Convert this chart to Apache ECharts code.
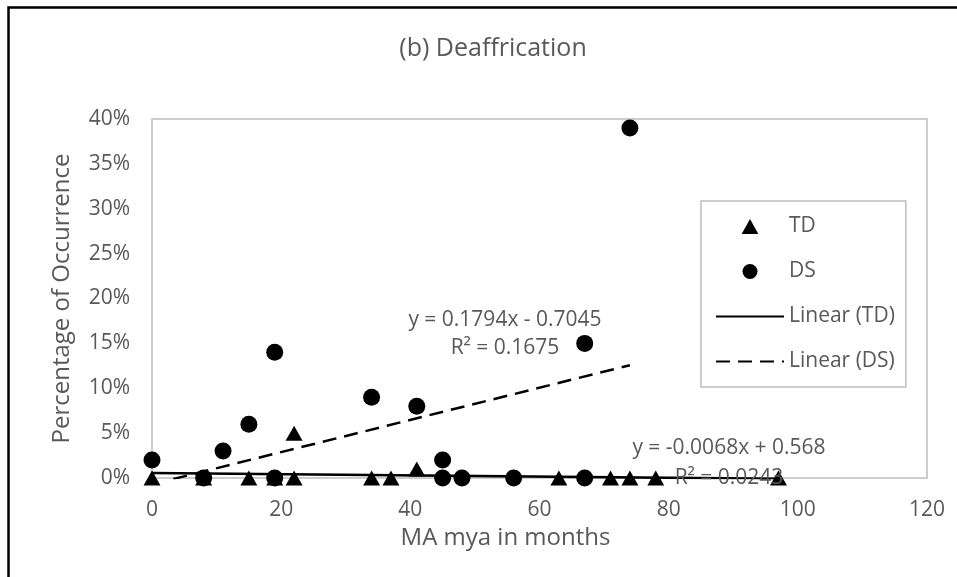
<!DOCTYPE html>
<html>
<head>
<meta charset="utf-8">
<script src="https://cdn.jsdelivr.net/npm/echarts@6/dist/echarts.min.js"></script>
<style>
html,body{margin:0;padding:0;background:#fff;}
#chart{width:957px;height:577px;}
</style>
</head>
<body>
<div id="chart"></div>
<script>
// ---- data (x = MA mya in months, y = percentage of occurrence) ----
const tdX = [0, 8, 15, 19, 22, 22, 34, 37, 41, 63, 71, 74, 78, 97];
const tdY = [0, 0, 0, 0, 5, 0, 0, 0, 1, 0, 0, 0, 0, 0];
const dsX = [0, 8, 11, 15, 19, 19, 34, 41, 45, 45, 48, 56, 67, 67, 74];
const dsY = [2, 0, 3, 6, 14, 0, 9, 8, 2, 0, 0, 0, 0, 15, 39];
// linear trendline coefficients as printed on the chart [slope, intercept]
const tdFit = [-0.0068, 0.568];
const dsFit = [0.1794, -0.7045];
const tdLabel = ["y = -0.0068x + 0.568", "R² = 0.0243"];
const dsLabel = ["y = 0.1794x - 0.7045", "R² = 0.1675"];
const xTicks = [0, 20, 40, 60, 80, 100, 120];
const yTicks = [0, 5, 10, 15, 20, 25, 30, 35, 40];

const FONT = "Open Sans";
const GREY = "#595959";
const TRI = 'path://M5,0L10,9L0,9Z';
const NOSYM = {color: 'rgba(0,0,0,0)', borderWidth: 0};

const pairs = (xs, ys) => xs.map((x, i) => [x, ys[i]]);
const fitLine = (fit, xs) => {
  const lo = Math.min(...xs), hi = Math.max(...xs);
  return [[lo, fit[0] * lo + fit[1]], [hi, fit[0] * hi + fit[1]]];
};

const eqFont = '21px "Open Sans"';
const chart = echarts.init(document.getElementById('chart'), null, {renderer: 'canvas'});
chart.setOption({
  backgroundColor: '#fff',
  animation: false,
  title: {
    text: '(b) Deaffrication',
    left: 488,
    textAlign: 'center',
    top: 31,
    textStyle: {fontFamily: FONT, fontSize: 25, fontWeight: 'normal', color: GREY}
  },
  grid: {left: 152, right: 30, top: 119, bottom: 99, show: true, borderColor: '#bfbfbf', borderWidth: 1.5, backgroundColor: 'transparent'},
  xAxis: {
    type: 'value', min: xTicks[0], max: xTicks[xTicks.length - 1], interval: 20,
    name: 'MA mya in months', nameLocation: 'middle', nameGap: 43,
    nameTextStyle: {fontFamily: FONT, fontSize: 24, color: GREY, padding: [0, 68, 0, 0]},
    axisLine: {show: false}, axisTick: {show: false}, splitLine: {show: false},
    axisLabel: {fontFamily: FONT, fontSize: 21, color: GREY, margin: 22}
  },
  yAxis: {
    type: 'value', min: yTicks[0], max: yTicks[yTicks.length - 1], interval: 5,
    name: 'Percentage of Occurrence', nameLocation: 'middle', nameGap: 78,
    nameTextStyle: {fontFamily: FONT, fontSize: 24, color: GREY},
    axisLine: {show: false}, axisTick: {show: false}, splitLine: {show: false},
    axisLabel: {fontFamily: FONT, fontSize: 21, color: GREY, margin: 22, formatter: '{value}%'}
  },
  legend: {
    orient: 'vertical', left: 701, top: 201,
    padding: [15, 11, 15, 14],
    borderColor: '#bfbfbf', borderWidth: 1.5, backgroundColor: '#fff',
    itemWidth: 68, itemHeight: 15, itemGap: 24, itemTextGap: 9, symbolKeepAspect: true,
    textStyle: {fontFamily: FONT, fontSize: 21, color: GREY, lineHeight: 16},
    data: [
      {name: 'TD', icon: TRI},
      {name: 'DS', icon: 'circle'},
      {name: 'Linear (TD)', itemStyle: NOSYM},
      {name: 'Linear (DS)', itemStyle: NOSYM}
    ]
  },
  series: [
    {name: 'TD', type: 'scatter', data: pairs(tdX, tdY), symbol: 'triangle', symbolSize: [17, 15],
     itemStyle: {color: '#000', opacity: 1}, z: 3},
    {name: 'DS', type: 'scatter', data: pairs(dsX, dsY), symbol: 'circle', symbolSize: 17,
     itemStyle: {color: '#000', opacity: 1}, z: 4},
    {name: 'Linear (TD)', type: 'line', data: fitLine(tdFit, tdX), symbol: 'none', clip: true,
     lineStyle: {color: '#000', width: 2.5, type: 'solid'}, itemStyle: {color: '#000'}, z: 5},
    {name: 'Linear (DS)', type: 'line', data: fitLine(dsFit, dsX), symbol: 'none', clip: true,
     lineStyle: {color: '#000', width: 2.5, type: [14, 8]}, itemStyle: {color: '#000'}, z: 5}
  ],
  graphic: [
    {type: 'rect', left: 6, top: 5, shape: {width: 980, height: 600}, style: {fill: 'none', stroke: '#000', lineWidth: 2.5}, silent: true, z: 100},
    {type: 'text', x: 505, y: 320, style: {text: dsLabel[0], font: eqFont, fill: GREY, align: 'center', verticalAlign: 'middle'}, z: 50},
    {type: 'text', x: 505, y: 348, style: {text: dsLabel[1], font: eqFont, fill: GREY, align: 'center', verticalAlign: 'middle'}, z: 50},
    {type: 'text', x: 729, y: 448, style: {text: tdLabel[0], font: eqFont, fill: GREY, align: 'center', verticalAlign: 'middle'}, z: 50},
    {type: 'text', x: 729, y: 478, style: {text: tdLabel[1], font: eqFont, fill: GREY, align: 'center', verticalAlign: 'middle'}, z: 50}
  ]
});
</script>
</body>
</html>
